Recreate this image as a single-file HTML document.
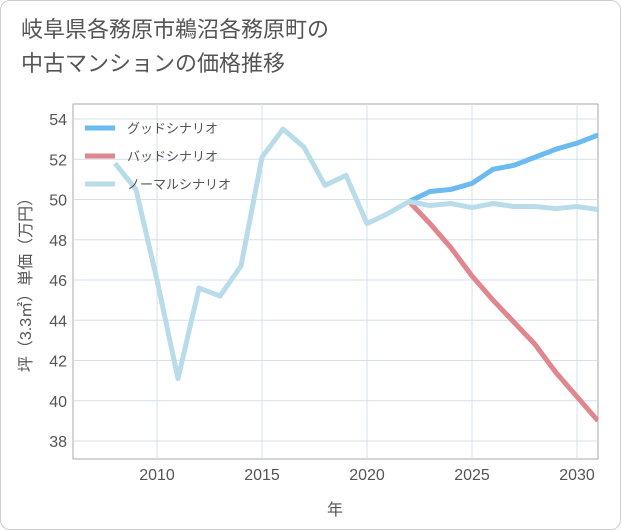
<!DOCTYPE html>
<html><head><meta charset="utf-8"><style>
body{margin:0;background:#fff;}
#card{position:relative;width:619px;height:528px;border:1px solid #ccc;border-radius:10px;background:#fff;overflow:hidden;font-family:"Liberation Sans","Noto Sans CJK JP",sans-serif;}
#title{position:absolute;left:20px;top:12px;font-size:22px;line-height:34px;color:#555;}
svg{position:absolute;left:0;top:0;}
</style></head><body>
<div id="card">
<div id="title">岐阜県各務原市鵜沼各務原町の<br>中古マンションの価格推移</div>
<svg id="chart" width="621" height="530"></svg>
</div>
<script>
const years=[2008,2009,2010,2011,2012,2013,2014,2015,2016,2017,2018,2019,2020,2021,2022,2023,2024,2025,2026,2027,2028,2029,2030,2031];
const normalVals=[51.8,50.5,46,41.1,45.6,45.2,46.7,52.1,53.5,52.6,50.7,51.2,48.8,49.3,49.9,49.7,49.8,49.6,49.8,49.65,49.65,49.55,49.65,49.5];
const futureYears=[2022,2023,2024,2025,2026,2027,2028,2029,2030,2031];
const goodVals=[49.9,50.4,50.5,50.8,51.5,51.7,52.1,52.5,52.8,53.2];
const badVals=[49.9,48.8,47.6,46.2,45.0,43.9,42.8,41.4,40.2,39.0];
const xTicks=[2010,2015,2020,2025,2030];
const yTicks=[38,40,42,44,46,48,50,52,54];
const legendLabels=["グッドシナリオ","バッドシナリオ","ノーマルシナリオ"];
const colors=["#6bbaf0","#e0868e","#b9dcea"];
const NS="http://www.w3.org/2000/svg";
const svg=document.getElementById('chart');
const L=72,R=597,T=103,B=458;
const xs=y=>156+(y-2010)*21;
const ys=v=>440-(v-38)*20.125;
function mk(t,a){const e=document.createElementNS(NS,t);for(const k in a)e.setAttribute(k,a[k]);svg.appendChild(e);return e;}
const frame=mk('rect',{x:L,y:T,width:R-L,height:B-T,fill:'none',stroke:'#aaa'});


xTicks.forEach(t=>{
 const g=mk('line',{x1:xs(t),x2:xs(t),y1:T,y2:B,stroke:'#d5e0ea'});
 
 
 const l=mk('text',{x:xs(t),y:479,'text-anchor':'middle','font-size':16,fill:'#555'});l.textContent=t;
 
 
});
yTicks.forEach(t=>{
 const g=mk('line',{x1:L,x2:R,y1:ys(t),y2:ys(t),stroke:'#d5e0ea'});
 
 
 const l=mk('text',{x:66,y:ys(t)+6,'text-anchor':'end','font-size':16,fill:'#555'});l.textContent=t;
 
 
});
const xt=mk('text',{x:334,y:514,'text-anchor':'middle','font-size':16,fill:'#555'});xt.textContent='年';


const yt=mk('text',{x:0,y:0,'text-anchor':'middle','font-size':16,fill:'#555',transform:'translate(30,280) rotate(-90)'});yt.textContent='坪（3.3㎡）単価（万円）';


const clip=mk('clipPath',{id:'c'});const cr=document.createElementNS(NS,'rect');
cr.setAttribute('x',L);cr.setAttribute('y',T);cr.setAttribute('width',R-L);cr.setAttribute('height',B-T);clip.appendChild(cr);
function line(xv,vals,c,name){
 const p=mk('polyline',{points:xv.map((y,i)=>xs(y)+','+ys(vals[i])).join(' '),fill:'none',stroke:c,'stroke-width':5,'stroke-linejoin':'round','clip-path':'url(#c)'});
 
 
}
line(futureYears,badVals,colors[1],'bad-scenario-line');
line(futureYears,goodVals,colors[0],'good-scenario-line');
line(years,normalVals,colors[2],'normal-scenario-line');
legendLabels.forEach((s,i)=>{
 const y=127+i*28;
 const m=mk('line',{x1:84,x2:114,y1:y,y2:y,stroke:colors[i],'stroke-width':5});
 
 
 const t=mk('text',{x:126,y:y+5,'font-size':13,fill:'#555'});t.textContent=s;
 
 
});
</script>
</body></html>
